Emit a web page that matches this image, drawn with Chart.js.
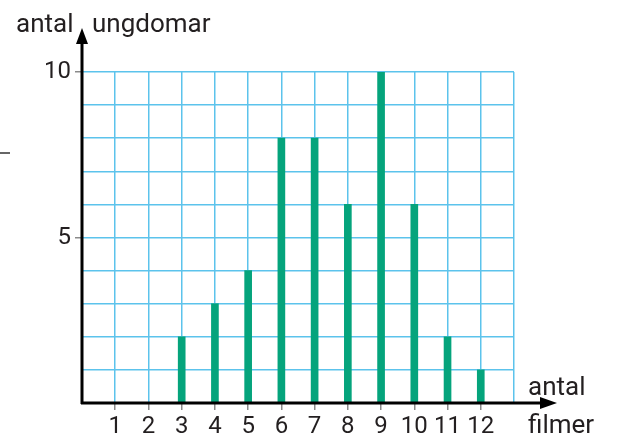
<!DOCTYPE html>
<html>
<head>
<meta charset="utf-8">
<script src="https://cdn.jsdelivr.net/npm/chart.js@4"></script>
<style>
  html, body { margin: 0; padding: 0; background: #fff; }
  #wrap { width: 617px; height: 439px; }
</style>
</head>
<body>
<div id="wrap"><canvas id="filmChart" width="617" height="439"></canvas></div>
<script>
const films = [1, 2, 3, 4, 5, 6, 7, 8, 9, 10, 11, 12];
const youths = [0, 0, 2, 3, 4, 8, 8, 6, 10, 6, 2, 1];
const yLabels = [5, 10];

const ink = '#231f20';
const gridBlue = '#5cc3ec';

// axes with arrows + the axis captions
const axesPlugin = {
  id: 'axes',
  afterDatasetsDraw(chart) {
    const { ctx, chartArea: a } = chart;
    ctx.save();
    ctx.strokeStyle = '#000';
    ctx.fillStyle = '#000';
    ctx.lineWidth = 3;
    ctx.beginPath();
    ctx.moveTo(a.left, a.bottom + 1);
    ctx.lineTo(a.left, 40);
    ctx.moveTo(a.left - 1, a.bottom);
    ctx.lineTo(542, a.bottom);
    ctx.stroke();
    // arrow heads
    ctx.beginPath();
    ctx.moveTo(a.left, 28);
    ctx.lineTo(a.left - 6, 44);
    ctx.lineTo(a.left + 6, 44);
    ctx.closePath();
    ctx.fill();
    ctx.beginPath();
    ctx.moveTo(557, a.bottom);
    ctx.lineTo(540, a.bottom - 6);
    ctx.lineTo(540, a.bottom + 6);
    ctx.closePath();
    ctx.fill();
    // stray mark at left
    ctx.lineWidth = 1.2;
    ctx.beginPath();
    ctx.moveTo(0, 153);
    ctx.lineTo(10, 153);
    ctx.stroke();

    ctx.fillStyle = ink;
    ctx.font = '26px Roboto';
    ctx.textBaseline = 'alphabetic';
    ctx.textAlign = 'left';
    ctx.fillText('antal', 16, 32);
    ctx.fillText('ungdomar', 92, 32);
    ctx.fillText('antal', 528, 395);
    ctx.fillText('filmer', 528, 433);
    ctx.restore();
  }
};

new Chart(document.getElementById('filmChart'), {
  type: 'bar',
  data: {
    datasets: [{
      data: films.map((f, i) => ({ x: f, y: youths[i] })),
      backgroundColor: '#05a47c',
      barThickness: 7
    }]
  },
  options: {
    responsive: false,
    animation: false,
    layout: { padding: { top: 72, right: 103, left: 0, bottom: 0 } },
    plugins: { legend: { display: false }, tooltip: { enabled: false } },
    scales: {
      x: {
        type: 'linear',
        min: 0,
        max: 13,
        offset: false,
        afterFit: s => { s.height = 36; },
        border: { display: false },
        grid: {
          offset: false,
          color: gridBlue,
          lineWidth: 1.5,
          tickLength: 7,
          tickColor: c => (c.tick && c.tick.value >= 1 && c.tick.value <= 12) ? '#8a8a8a' : 'rgba(0,0,0,0)'
        },
        ticks: {
          stepSize: 1,
          autoSkip: false,
          maxRotation: 0,
          padding: 3,
          color: ink,
          font: { family: 'Roboto', size: 24 },
          callback: v => films.includes(v) ? String(v) : ''
        }
      },
      y: {
        min: 0,
        max: 10,
        afterFit: s => { s.width = 82; },
        border: { display: false },
        grid: {
          color: gridBlue,
          lineWidth: 1.5,
          tickLength: 7,
          tickColor: c => (c.tick && yLabels.includes(c.tick.value)) ? '#8a8a8a' : 'rgba(0,0,0,0)'
        },
        ticks: {
          stepSize: 1,
          padding: 4,
          color: ink,
          font: { family: 'Roboto', size: 24 },
          callback: v => yLabels.includes(v) ? String(v) : ''
        }
      }
    }
  },
  plugins: [axesPlugin]
});
</script>
</body>
</html>
